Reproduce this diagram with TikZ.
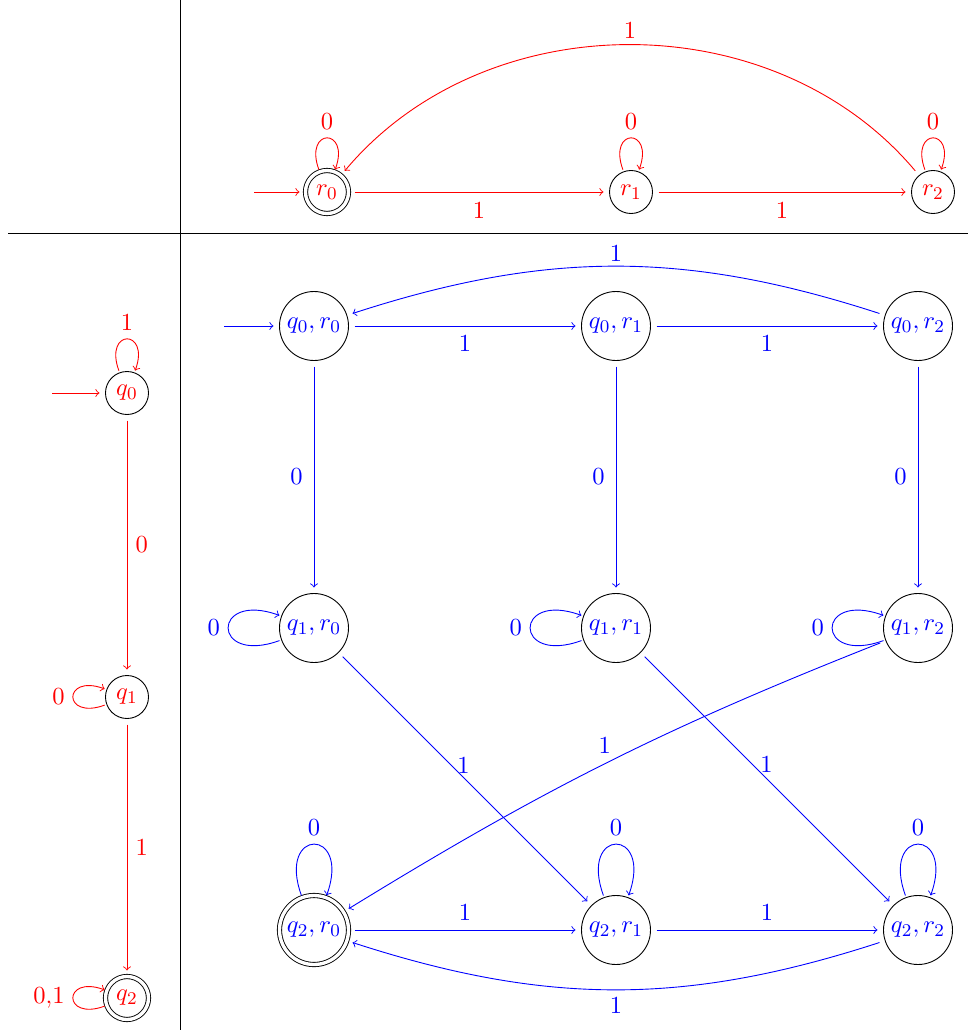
\documentclass[tikz,border=0pt]{standalone}
\usetikzlibrary{arrows}
\begin{document}
\fontsize{11}{13}\selectfont
\begin{tikzpicture}[x=0.4464pt,y=-0.4464pt,>=to,
  sm/.style={circle,draw=black,minimum size=19.2pt,inner sep=0pt},
  bg/.style={circle,draw=black,minimum size=30.8pt,inner sep=0pt},
  acc/.style={double,double distance=1.5pt},
  rr/.style={text=red},
  bb/.style={text=blue},
  redge/.style={->,red,shorten >=2.5pt,shorten <=2.5pt},
  bedge/.style={->,blue,shorten >=2.5pt,shorten <=2.5pt},
  lpa/.style={loop,out=110,in=70,looseness=8,shorten >=0.8pt,shorten <=0.8pt},
  lpl/.style={loop,out=200,in=160,looseness=8,shorten >=0.8pt,shorten <=0.8pt}]
\useasboundingbox (0,0) rectangle (968,1030);
% dividers
\draw (180,0) -- (180,1030);
\draw (8,233) -- (968,233);
% top automaton r
\node[sm,rr,acc] (r0) at (327,192) {$r_0$};
\node[sm,rr] (r1) at (631,192) {$r_1$};
\node[sm,rr] (r2) at (933,192) {$r_2$};
\coordinate (ir) at (254,192);
\draw[redge,shorten <=0pt] (ir) -- (r0);
\draw[redge] (r0) -- node[below=0.8pt]{$1$} (r1);
\draw[redge] (r1) -- node[below=0.8pt]{$1$} (r2);
\draw[redge] (r2) to[bend right=50] node[above=-0.5pt]{$1$} (r0);
\draw[redge] (r0) edge[lpa] node[above]{$0$} (r0);
\draw[redge] (r1) edge[lpa] node[above]{$0$} (r1);
\draw[redge] (r2) edge[lpa] node[above]{$0$} (r2);
% left automaton q
\node[sm,rr] (q0) at (127,393) {$q_0$};
\node[sm,rr] (q1) at (127,697) {$q_1$};
\node[sm,rr,acc] (q2) at (127,998) {$q_2$};
\coordinate (iq) at (52,393);
\draw[redge,shorten <=0pt] (iq) -- (q0);
\draw[redge] (q0) -- node[right=0pt]{$0$} (q1);
\draw[redge] (q1) -- node[right=0pt]{$1$} (q2);
\draw[redge] (q0) edge[lpa] node[above]{$1$} (q0);
\draw[redge] (q1) edge[lpl] node[left]{$0$} (q1);
\draw[redge] (q2) edge[lpl] node[left]{$0$,$1$} (q2);
% product automaton
\node[bg,bb] (a00) at (314,326) {$q_0,r_0$};
\node[bg,bb] (a01) at (616,326) {$q_0,r_1$};
\node[bg,bb] (a02) at (918,326) {$q_0,r_2$};
\node[bg,bb] (a10) at (314,628) {$q_1,r_0$};
\node[bg,bb] (a11) at (616,628) {$q_1,r_1$};
\node[bg,bb] (a12) at (918,628) {$q_1,r_2$};
\node[bg,bb,acc] (a20) at (314,930) {$q_2,r_0$};
\node[bg,bb] (a21) at (616,930) {$q_2,r_1$};
\node[bg,bb] (a22) at (918,930) {$q_2,r_2$};
\coordinate (ia) at (224,326);
\draw[bedge,shorten <=0pt] (ia) -- (a00);
\draw[bedge] (a00) -- node[below=0.4pt]{$1$} (a01);
\draw[bedge] (a01) -- node[below=0.4pt]{$1$} (a02);
\draw[bedge] (a02) to[bend right=18] node[above=-1.4pt]{$1$} (a00);
\draw[bedge] (a00) -- node[left=1.2pt]{$0$} (a10);
\draw[bedge] (a01) -- node[left=1.2pt]{$0$} (a11);
\draw[bedge] (a02) -- node[left=1.2pt]{$0$} (a12);
\draw[bedge] (a10) edge[lpl] node[left]{$0$} (a10);
\draw[bedge] (a11) edge[lpl] node[left]{$0$} (a11);
\draw[bedge] (a12) edge[lpl] node[left]{$0$} (a12);
\draw[bedge] (a10) -- node[pos=0.47,shift={(6,-6)}]{$1$} (a21);
\draw[bedge] (a11) -- node[pos=0.47,shift={(7,-7)}]{$1$} (a22);
\draw[bedge] (a12) to[bend right=5] node[pos=0.5,shift={(-3,-17)}]{$1$} (a20);
\draw[bedge] (a20) -- node[above=0.4pt]{$1$} (a21);
\draw[bedge] (a21) -- node[above=0.4pt]{$1$} (a22);
\draw[bedge] (a22) to[bend left=18] node[below=-0.1pt]{$1$} (a20);
\draw[bedge] (a20) edge[lpa] node[above]{$0$} (a20);
\draw[bedge] (a21) edge[lpa] node[above]{$0$} (a21);
\draw[bedge] (a22) edge[lpa] node[above]{$0$} (a22);
\end{tikzpicture}
\end{document}
